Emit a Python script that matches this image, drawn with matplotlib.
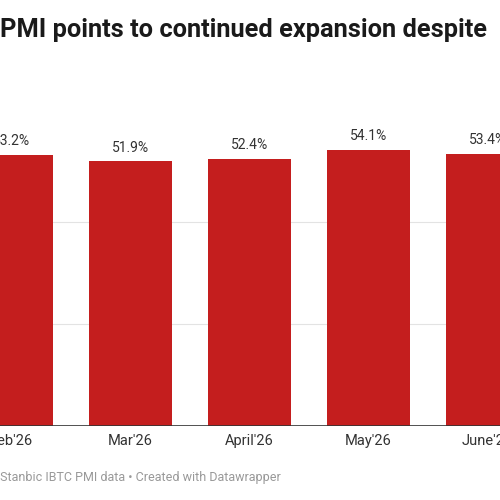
import matplotlib

matplotlib.use("Agg")
import matplotlib.pyplot as plt

months = ["Feb'26", "Mar'26", "April'26", "May'26", "June'26"]
pmi = [53.2, 51.9, 52.4, 54.1, 53.4]
grid_values = [20, 40]

RED = "#c41e1e"
INK = "#333333"

plt.rcParams["font.family"] = ["Roboto", "DejaVu Sans"]

fig = plt.figure(figsize=(5, 5), dpi=100)
ax = fig.add_axes([0, 74 / 500, 1, 426 / 500])
x = list(range(len(months)))
ax.bar(x, pmi, width=0.697, color=RED, zorder=2)
for xi, v in zip(x, pmi):
    ax.text(xi, v + 1.3, f"{v}%", ha="center", va="bottom", fontsize=10, color=INK)
for g in grid_values:
    ax.axhline(g, color="#e3e3e3", linewidth=0.8, zorder=1)
ax.axhline(0, color="#333333", linewidth=1.2, zorder=3)

ax.set_xlim(-11.5 / 119, 488.5 / 119)
ax.set_ylim(0, 83.5)
ax.set_xticks(x)
ax.set_xticklabels(months, fontsize=10.5, color=INK)
ax.tick_params(axis="x", length=0, pad=6)
ax.set_yticks([])
for s in ax.spines.values():
    s.set_visible(False)

fig.text(0.0, 0.94, "PMI points to continued expansion despite", ha="left", va="center",
         fontsize=18.3, fontweight="bold", color="#1a1a1a")
fig.text(-0.09, 0.044, "Source: Stanbic IBTC PMI data \u2022 Created with Datawrapper", ha="left",
         va="center", fontsize=9, color="#999999")

fig.savefig("out.png", dpi=100, facecolor="white")
